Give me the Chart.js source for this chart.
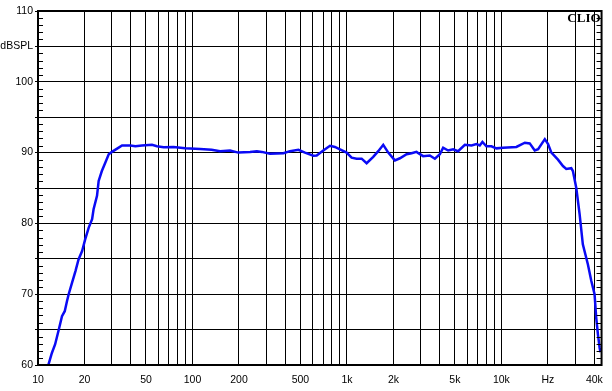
<!DOCTYPE html>
<html>
<head>
<meta charset="utf-8">
<script src="https://cdn.jsdelivr.net/npm/chart.js@4/dist/chart.umd.min.js"></script>
<style>
html,body{margin:0;padding:0;background:#fff;}
#wrap{width:612px;height:391px;}
</style>
</head>
<body>
<div id="wrap"><canvas id="c" width="612" height="391"></canvas></div>
<script>
// Frequency response (Hz) and SPL (dB)
const freqs = [11.7,12.3,12.9,13.6,14.3,14.9,15.4,15.8,16.6,17.5,18.3,19.3,20.2,21.3,22.4,22.9,24.1,24.7,25.9,27.3,28.7,30.1,33.3,35,39.6,42.7,47.1,54.7,58.9,65,75.4,89.7,112,133,151,175,198,236,261,281,318,388,428,485,535,606,637,703,777,836,901,995,1072,1155,1245,1341,1480,1595,1718,1851,2044,2203,2434,2619,2822,2934,3112,3440,3710,3995,4196,4520,4869,5244,5797,6402,6892,7240,7535,7993,8616,9285,10240,12500,14180,15250,16440,17280,19100,20050,21060,23240,25030,26300,28330,29030,30530,32080,33660,36310,38170,40090,41090,42170,43250,43800];
const spl = [60.1,61.7,62.9,64.9,66.9,67.6,69.0,70.0,71.6,73.3,74.9,76.1,77.75,79.4,80.6,82.0,83.9,86.0,87.4,88.6,89.76,90.1,90.7,91.0,91.0,90.9,91.0,91.1,90.9,90.75,90.8,90.6,90.5,90.4,90.2,90.3,90.0,90.1,90.2,90.1,89.85,89.9,90.2,90.4,90.0,89.56,89.6,90.3,90.97,90.8,90.47,90.0,89.28,89.14,89.14,88.5,89.4,90.2,91.1,90.0,88.9,89.2,89.76,89.9,90.1,89.85,89.5,89.6,89.14,89.76,90.7,90.3,90.47,90.2,91.1,91.0,91.2,91.0,91.5,90.9,90.9,90.6,90.7,90.8,91.4,91.3,90.3,90.47,91.9,91.2,90.0,89.0,88.1,87.7,87.8,87.4,85.0,81.3,77.05,74.2,71.9,70.0,66.7,64.3,62.4,61.8];

const xGridValues = [10,20,30,40,50,60,70,80,90,100,200,300,400,500,600,700,800,900,1000,2000,3000,4000,5000,6000,7000,8000,9000,10000,20000,30000,40000];
const xLabelValues = [10,20,50,100,200,500,1000,2000,5000,10000,20000,40000];
const xLabelTexts = ['10','20','50','100','200','500','1k','2k','5k','10k','Hz','40k'];
const yLabelValues = [110,105,100,90,80,70,60];
const yLabelTexts = ['110','dBSPL','100','90','80','70','60'];
const titleText = 'CLIO';

const points = freqs.map((f,i)=>({x:f,y:spl[i]}));

const framePlugin = {
  id:'frame',
  afterDraw(chart){
    const {ctx, chartArea:a, scales:{y}} = chart;
    ctx.save();
    ctx.strokeStyle='#000'; ctx.lineWidth=1;
    for(let v=61; v<110; v++){
      if(v%5===0) continue;
      const py = Math.round(y.getPixelForValue(v))+0.5;
      ctx.beginPath();
      ctx.moveTo(a.left, py); ctx.lineTo(a.left+5, py);
      ctx.moveTo(a.right-5, py); ctx.lineTo(a.right, py);
      ctx.stroke();
    }
    ctx.lineWidth=2;
    ctx.strokeRect(a.left, a.top, a.right-a.left, a.bottom-a.top);
    ctx.fillStyle='#000';
    ctx.font='bold 13px "Liberation Serif"';
    ctx.textAlign='right'; ctx.textBaseline='top';
    ctx.fillText(titleText, a.right-1, a.top+1);
    ctx.restore();
  }
};

new Chart(document.getElementById('c'), {
  type:'line',
  data:{datasets:[{data:points, borderColor:'#0a0af5', borderWidth:2.5, pointRadius:0, tension:0, fill:false}]},
  options:{
    responsive:false, animation:false, devicePixelRatio:1,
    layout:{padding:{top:11,right:10,left:0,bottom:0}},
    plugins:{legend:{display:false}, tooltip:{enabled:false}},
    scales:{
      x:{
        type:'logarithmic', min:10, max:44500,
        border:{display:false},
        grid:{color:'#000', lineWidth:1, drawTicks:false},
        ticks:{autoSkip:false, maxRotation:0, minRotation:0, padding:9, color:'#000',
          font:{family:'"Liberation Sans"', size:10.5},
          callback:(v)=>{const i=xLabelValues.indexOf(v); return i>=0?xLabelTexts[i]:'';}},
        afterBuildTicks:(s)=>{s.ticks = xGridValues.map(v=>({value:v}));},
        afterFit:(s)=>{s.height=26;}
      },
      y:{
        min:60, max:110,
        border:{display:false},
        grid:{color:'#000', lineWidth:1, drawTicks:true, tickLength:3},
        ticks:{stepSize:5, padding:2, color:'#000',
          font:{family:'"Liberation Sans"', size:10.5},
          callback:(v)=>{const i=yLabelValues.indexOf(v); return i>=0?yLabelTexts[i]:'';}},
        afterFit:(s)=>{s.width=38;}
      }
    }
  },
  plugins:[framePlugin]
});
</script>
</body>
</html>
